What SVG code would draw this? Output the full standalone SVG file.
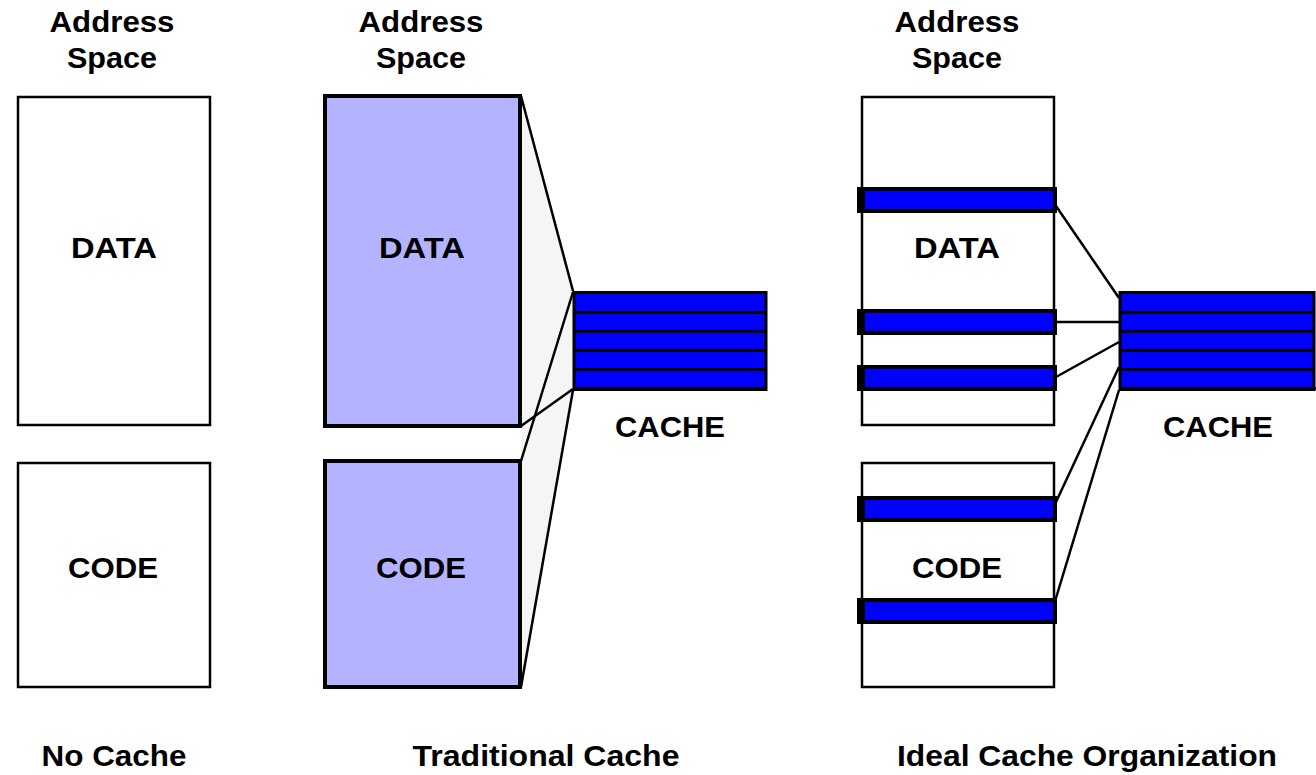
<svg xmlns="http://www.w3.org/2000/svg" width="1316" height="775" viewBox="0 0 1316 775">
<style>
text{font-family:"Liberation Sans",Arial,sans-serif;font-weight:bold;font-size:30px;fill:#000;text-anchor:middle}
.box{fill:#fff;stroke:#000;stroke-width:2.5}
.tbox{fill:#b3b3ff;stroke:#000;stroke-width:4}
.bar{fill:#0000ff;stroke:#000;stroke-width:4}
.cache{fill:#0000ff;stroke:#000;stroke-width:3}
.div{stroke:#000;stroke-width:3}
.ln{stroke:#000;stroke-width:2.5;fill:none}
</style>
<rect width="1316" height="775" fill="#fff"/>

<!-- Headers -->
<g id="hdr1"><text x="112" y="32" textLength="125" lengthAdjust="spacingAndGlyphs">Address</text><text x="112" y="68" textLength="90" lengthAdjust="spacingAndGlyphs">Space</text></g>
<g id="hdr2"><text x="421" y="32" textLength="125" lengthAdjust="spacingAndGlyphs">Address</text><text x="421" y="68" textLength="90" lengthAdjust="spacingAndGlyphs">Space</text></g>
<g id="hdr3"><text x="957" y="32" textLength="125" lengthAdjust="spacingAndGlyphs">Address</text><text x="957" y="68" textLength="90" lengthAdjust="spacingAndGlyphs">Space</text></g>

<!-- No cache -->
<g id="nc-data"><rect class="box" x="18" y="97" width="192" height="328"/><text x="114" y="258" textLength="86" lengthAdjust="spacingAndGlyphs">DATA</text></g>
<g id="nc-code"><rect class="box" x="18" y="463" width="192" height="224"/><text x="113" y="578" textLength="90" lengthAdjust="spacingAndGlyphs">CODE</text></g>

<!-- Traditional fan (background) -->
<g id="connectors">
<polygon points="521,96 573,291 573,390 521,688" fill="#f5f5f5" stroke="none"/>
</g>

<g id="tr-data"><rect class="tbox" x="325" y="96" width="195" height="330"/><text x="422" y="258" textLength="86" lengthAdjust="spacingAndGlyphs">DATA</text></g>
<g id="tr-code"><rect class="tbox" x="325" y="461" width="195" height="226"/><text x="421" y="578" textLength="90" lengthAdjust="spacingAndGlyphs">CODE</text></g>

<g id="tr-cache">
<rect class="cache" x="574" y="292.5" width="192" height="97"/>
<line class="div" x1="574" y1="312.5" x2="766" y2="312.5"/>
<line class="div" x1="574" y1="331.5" x2="766" y2="331.5"/>
<line class="div" x1="574" y1="350.5" x2="766" y2="350.5"/>
<line class="div" x1="574" y1="369.5" x2="766" y2="369.5"/>
<line class="div" x1="573" y1="388.5" x2="767" y2="388.5"/>
<text x="670" y="437" textLength="110" lengthAdjust="spacingAndGlyphs">CACHE</text>
</g>

<!-- Ideal -->
<g id="id-data">
<rect class="box" x="862" y="97" width="192" height="328"/>
<text x="957" y="258" textLength="86" lengthAdjust="spacingAndGlyphs">DATA</text>
<rect class="bar" x="859" y="189" width="196" height="22"/><rect x="857" y="187" width="8" height="26" fill="#000"/>
<rect class="bar" x="859" y="311" width="196" height="22"/><rect x="857" y="309" width="8" height="26" fill="#000"/>
<rect class="bar" x="859" y="367" width="196" height="22"/><rect x="857" y="365" width="8" height="26" fill="#000"/>
</g>
<g id="id-code">
<rect class="box" x="862" y="463" width="192" height="224"/>
<text x="957" y="578" textLength="90" lengthAdjust="spacingAndGlyphs">CODE</text>
<rect class="bar" x="859" y="498" width="196" height="22"/><rect x="857" y="496" width="8" height="26" fill="#000"/>
<rect class="bar" x="859" y="600" width="196" height="22"/><rect x="857" y="598" width="8" height="26" fill="#000"/>
</g>

<g id="id-cache">
<rect class="cache" x="1120" y="292.5" width="194" height="97"/>
<line class="div" x1="1120" y1="312.5" x2="1314" y2="312.5"/>
<line class="div" x1="1120" y1="331.5" x2="1314" y2="331.5"/>
<line class="div" x1="1120" y1="350.5" x2="1314" y2="350.5"/>
<line class="div" x1="1120" y1="369.5" x2="1314" y2="369.5"/>
<line class="div" x1="1119" y1="388.5" x2="1316" y2="388.5"/>
<text x="1218" y="437" textLength="110" lengthAdjust="spacingAndGlyphs">CACHE</text>
</g>

<g id="connector-lines">
<line class="ln" x1="521" y1="96" x2="573" y2="291"/>
<line class="ln" x1="521" y1="426" x2="573" y2="389"/>
<line class="ln" x1="521" y1="461" x2="573" y2="292"/>
<line class="ln" x1="521" y1="687" x2="573" y2="390"/>
<line class="ln" x1="1056" y1="206" x2="1119" y2="298"/>
<line class="ln" x1="1056" y1="322" x2="1119" y2="322"/>
<line class="ln" x1="1056" y1="377" x2="1119" y2="342"/>
<line class="ln" x1="1056" y1="502" x2="1119" y2="367"/>
<line class="ln" x1="1056" y1="598" x2="1119" y2="390"/>
</g>

<!-- Footers -->
<text x="114" y="766" textLength="145" lengthAdjust="spacingAndGlyphs">No Cache</text>
<text x="546" y="766" textLength="267" lengthAdjust="spacingAndGlyphs">Traditional Cache</text>
<text x="1087" y="766" textLength="380" lengthAdjust="spacingAndGlyphs">Ideal Cache Organization</text>
</svg>
